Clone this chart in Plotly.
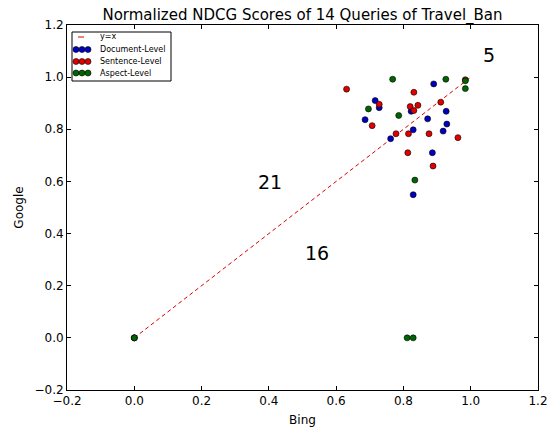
import plotly.graph_objects as go

# ---- data (Bing score, Google score) ----
doc_bing   = [0.890, 0.716, 0.728, 0.686, 0.823, 0.927, 0.872, 0.929, 0.918, 0.829, 0.762, 0.886, 0.829, 0.0]
doc_google = [0.974, 0.910, 0.883, 0.837, 0.869, 0.869, 0.840, 0.820, 0.793, 0.798, 0.764, 0.710, 0.549, 0.0]

sent_bing   = [0.631, 0.831, 0.728, 0.707, 0.820, 0.831, 0.843, 0.911, 0.778, 0.815, 0.876, 0.962, 0.813, 0.888, 0.984, 0.0]
sent_google = [0.954, 0.942, 0.896, 0.814, 0.887, 0.872, 0.892, 0.904, 0.783, 0.783, 0.783, 0.768, 0.710, 0.659, 0.990, 0.0]

asp_bing   = [0.768, 0.926, 0.984, 0.984, 0.696, 0.786, 0.834, 0.811, 0.829, 0.0]
asp_google = [0.992, 0.992, 0.986, 0.956, 0.878, 0.853, 0.605, 0.0, 0.0, 0.0]

line_x = [0.0, 1.0]
line_y = [0.0, 1.0]

count_labels = ["5", "21", "16"]
count_x = [1.054, 0.402, 0.542]
count_y = [1.085, 0.596, 0.327]

ticks = [-0.2, 0.0, 0.2, 0.4, 0.6, 0.8, 1.0, 1.2]

title = "Normalized NDCG Scores of 14 Queries of Travel_Ban"
legend_names = ["y=x", "Document-Level", "Sentence-Level", "Aspect-Level"]

BLUE = "#0000c0"
RED = "#e00000"
GREEN = "#006400"
FONT = "DejaVu Sans"

# page has an 8px body margin; size the figure so the plot area lands where the reference has it
OFF = 8
W, H = 555 - OFF, 430 - OFF
PL, PR, PT, PB = 67, 538, 25, 390          # plot area in page pixels
L, T = PL - OFF, PT - OFF
R, B = W - (PR - OFF), H - (PB - OFF)
PW, PH = PR - PL, PB - PT

fig = go.Figure()
fig.add_trace(go.Scatter(x=line_x, y=line_y, mode="lines",
                         line=dict(color=RED, width=1, dash="4px,3px"),
                         name=legend_names[0], showlegend=False))
for xs, ys, col, nm in [(doc_bing, doc_google, BLUE, legend_names[1]),
                        (sent_bing, sent_google, RED, legend_names[2]),
                        (asp_bing, asp_google, GREEN, legend_names[3])]:
    fig.add_trace(go.Scatter(x=xs, y=ys, mode="markers", name=nm, showlegend=False,
                             marker=dict(color=col, size=6,
                                         line=dict(color="black", width=0.6))))

annotations = []
for t, x, y in zip(count_labels, count_x, count_y):
    annotations.append(dict(x=x, y=y, xref="x", yref="y", text=t, showarrow=False,
                            font=dict(family=FONT, size=19, color="black")))

# manual legend (matplotlib style with 3 scatter points); coords in page pixels
def px2paper(px, py):
    return (px - PL) / PW, (PB - py) / PH

shapes = []
x0, y0 = px2paper(72, 32)
x1, y1 = px2paper(171, 81)
shapes.append(dict(type="rect", xref="paper", yref="paper", x0=x0, y0=y1, x1=x1, y1=y0,
                   line=dict(color="black", width=1), fillcolor="white", layer="above"))
lx0, ly = px2paper(78, 37)
lx1, _ = px2paper(84, 37)
shapes.append(dict(type="line", xref="paper", yref="paper", x0=lx0, y0=ly, x1=lx1, y1=ly,
                   line=dict(color=RED, width=1), layer="above"))
entry_y = [37, 49.5, 61.5, 73]
for i, col in enumerate([BLUE, RED, GREEN]):
    for mx in [76, 82, 88]:
        ax, ay = px2paper(mx, entry_y[i + 1])
        shapes.append(dict(type="circle", xref="paper", yref="paper",
                           xsizemode="pixel", ysizemode="pixel",
                           xanchor=ax, yanchor=ay, x0=-3, x1=3, y0=-3, y1=3,
                           fillcolor=col, line=dict(color="black", width=0.6),
                           layer="above"))
for name, py in zip(legend_names, entry_y):
    tx, ty = px2paper(98, py)
    annotations.append(dict(x=tx, y=ty, xref="paper", yref="paper", text=name,
                            showarrow=False, xanchor="left", yanchor="middle",
                            font=dict(family=FONT, size=8, color="black")))

axis_common = dict(range=[-0.2, 1.2], tickvals=ticks, tickformat=".1f",
                   showgrid=False, zeroline=False, showline=True, linecolor="black",
                   linewidth=1, mirror="ticks", ticks="inside", ticklen=4,
                   tickcolor="black", automargin=False,
                   tickfont=dict(family=FONT, size=12, color="black"))

fig.update_layout(
    width=W, height=H,
    margin=dict(l=L, r=R, t=T, b=B, autoexpand=False),
    paper_bgcolor="white", plot_bgcolor="white",
    title=dict(text=title, x=((PL + PR) / 2 - OFF) / W, xanchor="center",
               y=1 - (14.5 - OFF) / H, yanchor="middle",
               font=dict(family=FONT, size=15, color="black"), automargin=False),
    xaxis=dict(**axis_common, title=dict(text="Bing", font=dict(family=FONT, size=12, color="black"), standoff=8)),
    yaxis=dict(**axis_common, title=dict(text="Google", font=dict(family=FONT, size=12, color="black"), standoff=8)),
    shapes=shapes, annotations=annotations, showlegend=False,
)

fig.write_html("out.html")
